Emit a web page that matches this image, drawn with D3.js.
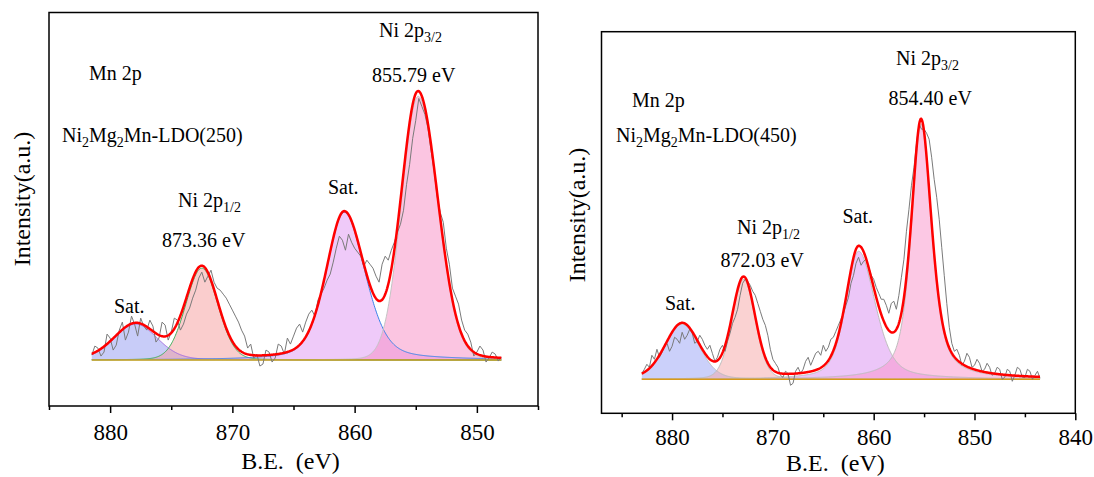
<!DOCTYPE html>
<html>
<head>
<meta charset="utf-8">
<script src="https://cdn.jsdelivr.net/npm/d3@7"></script>
<style>
  body { margin: 0; background: #fff; }
  text { font-family: "Liberation Serif", "Times New Roman", serif; fill: #000; }
</style>
</head>
<body>
<svg width="1094" height="477"></svg>
<script>
// raw spectrum, Ni2Mg2Mn-LDO(250): B.E. from 881.5 eV down in 0.25 eV steps (a.u. above background)
var raw250Start = 881.5, raw250Step = 0.25;
var raw250 = [5, 14, 12, 4, 8, 26, 22, 10, 15, 30, 38, 20, 28, 44, 36, 24, 42, 34, 30, 40,
  34, 18, 22, 38, 35, 20, 28, 42, 40, 30, 36, 46, 52, 62, 70, 82, 88, 78, 84, 90,
  78, 72, 70, 66, 62, 56, 50, 44, 38, 30, 24, 12, 16, 2, 6, -6, -4, 10, 8, -2,
  2, 16, 14, 6, 22, 16, 24, 32, 36, 28, 38, 46, 50, 44, 60, 66, 72, 80, 86, 98,
  112, 124, 120, 110, 126, 118, 112, 108, 104, 94, 100, 96, 92, 84, 78, 96, 104, 100, 110, 118,
  128, 136, 150, 176, 196, 222, 240, 262, 254, 246, 232, 210, 190, 164, 148, 138, 112, 96, 72, 64,
  56, 40, 30, 26, 18, 4, 8, 14, 10, -2, 2, 8, 6, -1, 3];

// fitted components: Sat., Ni 2p1/2, Sat., Ni 2p3/2
var center250 = [877.9, 872.5, 860.85, 854.8];
var height250 = [36, 92, 148, 264];
var fwhmLeft250 = [4.2, 3.1, 3.5, 3.2];
var fwhmRight250 = [4.2, 3.1, 4.0, 3.75];
var lorentz250 = [0.2, 0.1, 0.35, 0.05];

// raw spectrum, Ni2Mg2Mn-LDO(450): from 883.0 eV down in 0.25 eV steps
var raw450Start = 883.0, raw450Step = 0.25;
var raw450 = [6, 10, 15, 12, 24, 20, 30, 22, 27, 34, 36, 28, 33, 42, 40, 36, 47, 40, 44, 50,
  46, 36, 38, 44, 40, 34, 30, 34, 26, 18, 22, 30, 34, 28, 38, 46, 56, 62, 70, 84,
  96, 100, 98, 94, 88, 84, 76, 68, 60, 54, 44, 30, 20, 16, 12, 4, 2, 8, 6, -6,
  -4, 8, 12, 6, 10, 18, 22, 14, 20, 26, 28, 24, 34, 28, 32, 40, 42, 48, 54, 60,
  66, 74, 82, 96, 104, 116, 122, 114, 118, 120, 112, 104, 100, 92, 86, 80, 80, 74, 66, 76,
  78, 70, 84, 102, 120, 148, 170, 194, 212, 236, 255, 250, 250, 246, 240, 222, 200, 182, 160, 132,
  104, 76, 52, 36, 28, 30, 24, 14, 18, 26, 22, 12, 14, 20, 16, 8, 10, 16, 12, 4,
  6, 12, 10, 0, 2, 10, 8, -2, 4, 12, 10, 2, 2, 10, 8, 0, 4, 8, 1];

var center450 = [879.0, 872.9, 861.5, 855.3];
var height450 = [55, 100, 128, 255];
var fwhmLeft450 = [4.0, 2.7, 3.0, 2.3];
var fwhmRight450 = [4.0, 2.7, 3.9, 2.5];
var lorentz450 = [0.2, 0.15, 0.45, 0.6];

var majorTicks250 = [880, 870, 860, 850];
var minorTicks250 = [885, 875, 865, 855, 845];
var majorTicks450 = [880, 870, 860, 850, 840];
var minorTicks450 = [885, 875, 865, 855, 845];

var svg = d3.select("svg");

// pseudo-Voigt with separate half widths on each side
function pv(e, c, a, wl, wr, eta) {
    var w = e > c ? wl : wr;
    var t = (e - c) / w;
    var g = Math.exp(-4 * Math.LN2 * t * t);
    var l = 1 / (1 + 4 * t * t);
    return a * (eta * l + (1 - eta) * g);
}

function rich(g, x, y, parts, size) {
    var t = g.append("text").attr("x", x).attr("y", y).attr("font-size", size + "px");
    var shifted = false;
    parts.forEach(function (p) {
        var s = t.append("tspan").text(p[0]);
        if (p[1] && !shifted) { s.attr("font-size", (size * 0.7) + "px").attr("dy", size * 0.25); shifted = true; }
        else if (!p[1] && shifted) { s.attr("dy", -size * 0.25); shifted = false; }
    });
}

function drawPanel(p) {
    var x = d3.scaleLinear().domain(p.xDomain).range([p.left, p.right]);
    var y = d3.scaleLinear().domain(p.yDomain).range([p.bottom, p.top]);
    var g = svg.append("g");

    var eEnd = p.rawStart - (p.raw.length - 1) * p.rawStep;
    var grid = [];
    for (var e = p.rawStart; e >= eEnd - 1e-9; e -= 0.05) grid.push(e);

    var comps = p.centers.map(function (c, i) {
        return grid.map(function (e) {
            return { e: e, v: pv(e, c, p.heights[i], p.wl[i], p.wr[i], p.eta[i]) };
        });
    });
    var envelope = grid.map(function (e, k) {
        return { e: e, v: d3.sum(comps, function (c) { return c[k].v; }) };
    });

    var area = d3.area().x(function (d) { return x(d.e); }).y0(y(0)).y1(function (d) { return y(d.v); });
    var line = d3.line().x(function (d) { return x(d.e); }).y(function (d) { return y(d.v); });

    g.selectAll(".fill").data(comps).enter().append("path")
        .attr("d", area)
        .attr("fill", function (d, i) { return p.fills[i]; })
        .attr("fill-opacity", 0.5);

    g.selectAll(".outline").data(comps).enter().append("path")
        .attr("d", line)
        .attr("fill", "none")
        .attr("stroke", function (d, i) { return p.strokes[i]; })
        .attr("stroke-width", 1);

    g.append("line")
        .attr("x1", x(p.rawStart)).attr("x2", x(eEnd))
        .attr("y1", y(0)).attr("y2", y(0))
        .attr("stroke", p.baseColor).attr("stroke-width", 1.5);

    var rawPts = p.raw.map(function (v, i) { return { e: p.rawStart - i * p.rawStep, v: v }; });
    g.append("path").datum(rawPts)
        .attr("d", line)
        .attr("fill", "none").attr("stroke", "#7a7a7a").attr("stroke-width", 1);

    g.append("path").datum(envelope)
        .attr("d", line)
        .attr("fill", "none").attr("stroke", "#ff0000").attr("stroke-width", 2.5);

    // frame
    g.append("rect")
        .attr("x", p.left).attr("y", p.top)
        .attr("width", p.right - p.left).attr("height", p.bottom - p.top)
        .attr("fill", "none").attr("stroke", "#000").attr("stroke-width", 1.5);

    var ax = g.append("g").attr("transform", "translate(0," + p.bottom + ")")
        .call(d3.axisBottom(x).tickValues(p.major).tickSize(7).tickPadding(p.tickPad).tickFormat(d3.format("d")));
    ax.select(".domain").remove();
    ax.selectAll("line").attr("stroke-width", 1.5);
    ax.selectAll("text").attr("font-size", "23px")
        .attr("font-family", "Liberation Serif, serif").attr("dy", "0.75em");

    var mx = g.append("g").attr("transform", "translate(0," + p.bottom + ")")
        .call(d3.axisBottom(x).tickValues(p.minor).tickSize(4).tickFormat(""));
    mx.select(".domain").remove();
    mx.selectAll("line").attr("stroke-width", 1.5);

    g.append("text")
        .attr("x", (p.left + p.right) / 2 - 3).attr("y", p.xTitleY)
        .attr("text-anchor", "middle").attr("font-size", "24px")
        .attr("xml:space", "preserve")
        .text("B.E.  (eV)");

    g.append("text")
        .attr("transform", "translate(" + p.yTitleX + "," + p.yTitleY + ") rotate(-90)")
        .attr("text-anchor", "middle").attr("font-size", "24px")
        .text("Intensity(a.u.)");

    p.labels.forEach(function (l) { rich(g, l.x, l.y, l.parts, 20); });
}

drawPanel({
    xDomain: [885, 845], yDomain: [-46, 348],
    left: 49, right: 538, top: 12.5, bottom: 406,
    rawStart: raw250Start, rawStep: raw250Step, raw: raw250,
    centers: center250, heights: height250, wl: fwhmLeft250, wr: fwhmRight250, eta: lorentz250,
    fills: ["#9199f1", "#f59b9b", "#df95f3", "#f78bc3"],
    strokes: ["#a46ee0", "#3fae5a", "#3a82e8", "#c4c4c4"],
    baseColor: "#c4a21c",
    major: majorTicks250, minor: minorTicks250, tickPad: 10,
    xTitleY: 469, yTitleX: 30, yTitleY: 199,
    labels: [
        { x: 89, y: 80, parts: [["Mn 2p"]] },
        { x: 62, y: 142, parts: [["Ni"], ["2", 1], ["Mg"], ["2", 1], ["Mn-LDO(250)"]] },
        { x: 379, y: 37, parts: [["Ni 2p"], ["3/2", 1]] },
        { x: 372, y: 81.5, parts: [["855.79 eV"]] },
        { x: 328, y: 194, parts: [["Sat."]] },
        { x: 178, y: 207, parts: [["Ni 2p"], ["1/2", 1]] },
        { x: 162, y: 247, parts: [["873.36 eV"]] },
        { x: 114, y: 312.5, parts: [["Sat."]] }
    ]
});

drawPanel({
    xDomain: [887, 840], yDomain: [-34, 347.5],
    left: 601.5, right: 1075.3, top: 31.7, bottom: 413.3,
    rawStart: raw450Start, rawStep: raw450Step, raw: raw450,
    centers: center450, heights: height450, wl: fwhmLeft450, wr: fwhmRight450, eta: lorentz450,
    fills: ["#97a1f5", "#f5a6a6", "#d98df1", "#f991c9"],
    strokes: ["#bdbdbd", "#bdbdbd", "#bdbdbd", "#bdbdbd"],
    baseColor: "#d89a1a",
    major: majorTicks450, minor: minorTicks450, tickPad: 7,
    xTitleY: 471, yTitleX: 585, yTitleY: 215,
    labels: [
        { x: 632, y: 107, parts: [["Mn 2p"]] },
        { x: 616, y: 142, parts: [["Ni"], ["2", 1], ["Mg"], ["2", 1], ["Mn-LDO(450)"]] },
        { x: 896, y: 65, parts: [["Ni 2p"], ["3/2", 1]] },
        { x: 888.5, y: 105, parts: [["854.40 eV"]] },
        { x: 842.5, y: 222.5, parts: [["Sat."]] },
        { x: 737, y: 234, parts: [["Ni 2p"], ["1/2", 1]] },
        { x: 720.5, y: 267, parts: [["872.03 eV"]] },
        { x: 665, y: 310, parts: [["Sat."]] }
    ]
});
</script>
</body>
</html>
